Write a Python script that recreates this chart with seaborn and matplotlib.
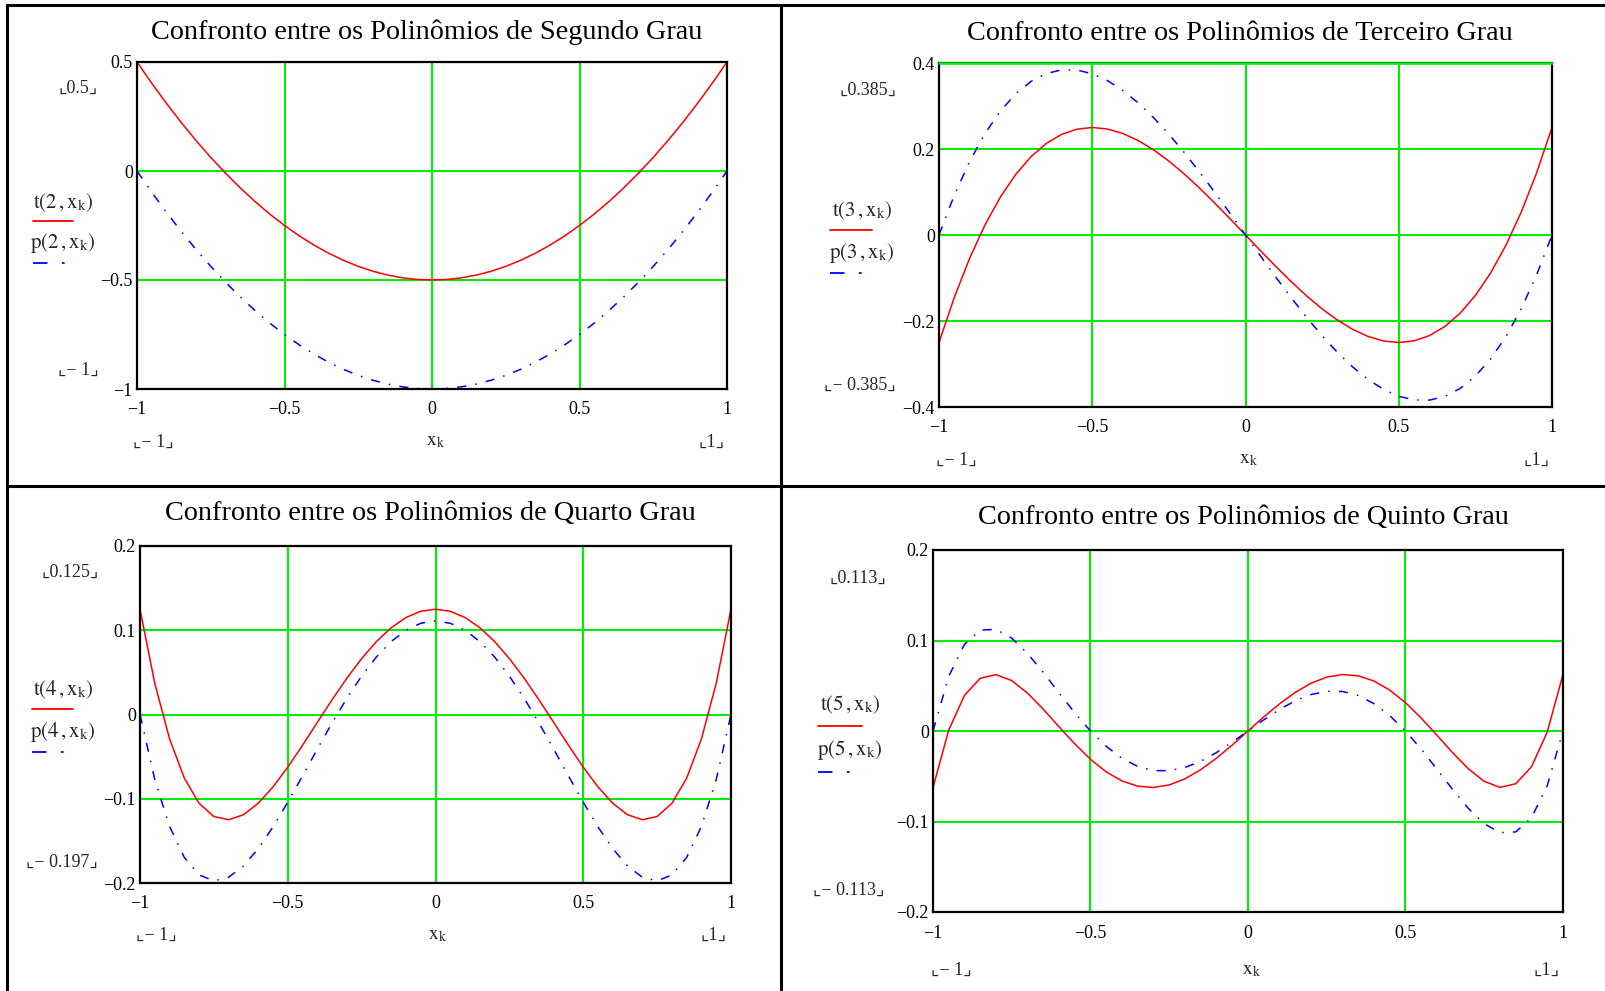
import numpy as np
import seaborn as sns
from matplotlib import pyplot as plt
from matplotlib.lines import Line2D

# pontos x_k
x_k = [-1.0, -0.95, -0.9, -0.85, -0.8, -0.75, -0.7, -0.65, -0.6, -0.55, -0.5,
       -0.45, -0.4, -0.35, -0.3, -0.25, -0.2, -0.15, -0.1, -0.05, 0.0,
       0.05, 0.1, 0.15, 0.2, 0.25, 0.3, 0.35, 0.4, 0.45, 0.5,
       0.55, 0.6, 0.65, 0.7, 0.75, 0.8, 0.85, 0.9, 0.95, 1.0]

# segundo grau
t2 = [0.5, 0.4025, 0.31, 0.2225, 0.14, 0.0625, -0.01, -0.0775, -0.14, -0.1975, -0.25,
      -0.2975, -0.34, -0.3775, -0.41, -0.4375, -0.46, -0.4775, -0.49, -0.4975, -0.5,
      -0.4975, -0.49, -0.4775, -0.46, -0.4375, -0.41, -0.3775, -0.34, -0.2975, -0.25,
      -0.1975, -0.14, -0.0775, -0.01, 0.0625, 0.14, 0.2225, 0.31, 0.4025, 0.5]
p2 = [0.0, -0.0975, -0.19, -0.2775, -0.36, -0.4375, -0.51, -0.5775, -0.64, -0.6975, -0.75,
      -0.7975, -0.84, -0.8775, -0.91, -0.9375, -0.96, -0.9775, -0.99, -0.9975, -1.0,
      -0.9975, -0.99, -0.9775, -0.96, -0.9375, -0.91, -0.8775, -0.84, -0.7975, -0.75,
      -0.6975, -0.64, -0.5775, -0.51, -0.4375, -0.36, -0.2775, -0.19, -0.0975, 0.0]

# terceiro grau
t3 = [-0.25, -0.1449, -0.054, 0.0234, 0.088, 0.1406, 0.182, 0.2129, 0.234, 0.2461, 0.25,
      0.2464, 0.236, 0.2196, 0.198, 0.1719, 0.142, 0.1091, 0.074, 0.0374, 0.0,
      -0.0374, -0.074, -0.1091, -0.142, -0.1719, -0.198, -0.2196, -0.236, -0.2464, -0.25,
      -0.2461, -0.234, -0.2129, -0.182, -0.1406, -0.088, -0.0234, 0.054, 0.1449, 0.25]
p3 = [0.0, 0.0926, 0.171, 0.2359, 0.288, 0.3281, 0.357, 0.3754, 0.384, 0.3836, 0.375,
      0.3589, 0.336, 0.3071, 0.273, 0.2344, 0.192, 0.1466, 0.099, 0.0499, 0.0,
      -0.0499, -0.099, -0.1466, -0.192, -0.2344, -0.273, -0.3071, -0.336, -0.3589, -0.375,
      -0.3836, -0.384, -0.3754, -0.357, -0.3281, -0.288, -0.2359, -0.171, -0.0926, 0.0]

# quarto grau
t4 = [0.125, 0.037, -0.0289, -0.0755, -0.1054, -0.1211, -0.1249, -0.119, -0.1054, -0.086, -0.0625,
      -0.0365, -0.0094, 0.0175, 0.0431, 0.0664, 0.0866, 0.103, 0.1151, 0.1225, 0.125,
      0.1225, 0.1151, 0.103, 0.0866, 0.0664, 0.0431, 0.0175, -0.0094, -0.0365, -0.0625,
      -0.086, -0.1054, -0.119, -0.1249, -0.1211, -0.1054, -0.0755, -0.0289, 0.037, 0.125]
p4 = [0.0, -0.0772, -0.1328, -0.1697, -0.1904, -0.1975, -0.1932, -0.1798, -0.1593, -0.1335, -0.1042,
      -0.0729, -0.0411, -0.01, 0.0192, 0.0456, 0.0683, 0.0866, 0.1001, 0.1083, 0.1111,
      0.1083, 0.1001, 0.0866, 0.0683, 0.0456, 0.0192, -0.01, -0.0411, -0.0729, -0.1042,
      -0.1335, -0.1593, -0.1798, -0.1932, -0.1975, -0.1904, -0.1697, -0.1328, -0.0772, 0.0]

# quinto grau
t5 = [-0.0625, 0.0011, 0.0395, 0.0583, 0.0623, 0.0557, 0.0419, 0.0241, 0.0047, -0.0142, -0.0313,
      -0.0452, -0.0552, -0.061, -0.0624, -0.0596, -0.0528, -0.0427, -0.03, -0.0155, 0.0,
      0.0155, 0.03, 0.0427, 0.0528, 0.0596, 0.0624, 0.061, 0.0552, 0.0452, 0.0313,
      0.0142, -0.0047, -0.0241, -0.0419, -0.0557, -0.0623, -0.0583, -0.0395, -0.0011, 0.0625]
p5 = [0.0, 0.0604, 0.0958, 0.1115, 0.1123, 0.1025, 0.0857, 0.0648, 0.0422, 0.0201, 0.0,
      -0.017, -0.0302, -0.0392, -0.0437, -0.0439, -0.0403, -0.0334, -0.0238, -0.0123, 0.0,
      0.0123, 0.0238, 0.0334, 0.0403, 0.0439, 0.0437, 0.0392, 0.0302, 0.017, 0.0,
      -0.0201, -0.0422, -0.0648, -0.0857, -0.1025, -0.1123, -0.1115, -0.0958, -0.0604, 0.0]

titles = ["Confronto entre os Polinômios de Segundo Grau",
          "Confronto entre os Polinômios de Terceiro Grau",
          "Confronto entre os Polinômios de Quarto Grau",
          "Confronto entre os Polinômios de Quinto Grau"]
graus = [2, 3, 4, 5]
x_ticks = [-1, -0.5, 0, 0.5, 1]
x_ticklabels = ["\u22121", "\u22120.5", "0", "0.5", "1"]
y_ticks = [[-1, -0.5, 0, 0.5], [-0.4, -0.2, 0, 0.2, 0.4], [-0.2, -0.1, 0, 0.1, 0.2], [-0.2, -0.1, 0, 0.1, 0.2]]
y_ticklabels = [["\u22121", "\u22120.5", "0", "0.5"],
                ["\u22120.4", "\u22120.2", "0", "0.2", "0.4"],
                ["\u22120.2", "\u22120.1", "0", "0.1", "0.2"],
                ["\u22120.2", "\u22120.1", "0", "0.1", "0.2"]]
y_marks = [["0.5", "\u2212 1"], ["0.385", "\u2212 0.385"], ["0.125", "\u2212 0.197"], ["0.113", "\u2212 0.113"]]

W, H = 1606, 991
sns.set_theme(style='white')
plt.rcParams['font.family'] = ['Liberation Serif', 'DejaVu Sans']
plt.rcParams['mathtext.fontset'] = 'stix'

fig = plt.figure(figsize=(W / 100, H / 100), dpi=100)
fig.patch.set_facecolor('white')

def fx(px):
    return px / W

def fy(py):
    return 1 - py / H

# caixa dos eixos em pixels: esquerda, topo, direita, base
boxes = [(137, 62, 727, 389), (939, 63, 1552, 407), (140, 546, 731, 883), (933, 550, 1563, 912)]
# posicoes dos textos auxiliares (pixels)
layout = [
    dict(title=(427, 32), ytop=(78, 88), ybot=(78, 370), xl=(153, 442), xr=(712, 442), xk=(435, 442),
         leg_t=(63, 203), leg_line1=(33, 73, 221), leg_p=(63, 243), leg_line2=(33, 73, 263)),
    dict(title=(1240, 33), ytop=(868, 90), ybot=(860, 385), xl=(956, 460), xr=(1537, 460), xk=(1248, 460),
         leg_t=(862, 211), leg_line1=(830, 872, 230), leg_p=(862, 253), leg_line2=(830, 872, 273)),
    dict(title=(430, 513), ytop=(70, 572), ybot=(62, 862), xl=(156, 935), xr=(714, 935), xk=(437, 935),
         leg_t=(63, 690), leg_line1=(32, 73, 709), leg_p=(63, 732), leg_line2=(32, 73, 752)),
    dict(title=(1243, 517), ytop=(858, 578), ybot=(849, 890), xl=(951, 970), xr=(1547, 970), xk=(1251, 970),
         leg_t=(850, 705), leg_line1=(818, 862, 726), leg_p=(850, 750), leg_line2=(818, 862, 772)),
]

series_t = [t2, t3, t4, t5]
series_p = [p2, p3, p4, p5]
dashdot = (0, (6, 6, 1, 6))

for i in range(4):
    l, t, r, b = boxes[i]
    ax = fig.add_axes([fx(l), fy(b), (r - l) / W, (b - t) / H])
    sns.lineplot(x=x_k, y=series_t[i], ax=ax, color='#ff0000', linewidth=1.1)
    sns.lineplot(x=x_k, y=series_p[i], ax=ax, color='#0000ff', linewidth=1.1, linestyle=dashdot)
    ax.set_xlim(-1, 1)
    ax.set_ylim(y_ticks[i][0], y_ticks[i][-1])
    ax.set_xticks(x_ticks)
    ax.set_xticklabels(x_ticklabels)
    ax.set_yticks(y_ticks[i])
    ax.set_yticklabels(y_ticklabels[i])
    ax.tick_params(axis='both', length=0, labelsize=13, colors='black')
    ax.tick_params(axis='x', pad=9)
    ax.tick_params(axis='y', pad=3)
    ax.grid(True, color='#00ee00', linewidth=1.5)
    for sp in ax.spines.values():
        sp.set_color('black')
        sp.set_linewidth(1.6)
    if i == 1:
        ax.axhline(y_ticks[i][-1], color='#00ee00', linewidth=1.8, zorder=5, clip_on=False)
    ax.set_xlabel('')
    ax.set_ylabel('')

    lay = layout[i]
    fig.text(fx(lay['title'][0]), fy(lay['title'][1]), titles[i], fontsize=20.3,
             ha='center', va='center', color='black')
    fig.text(fx(lay['ytop'][0]), fy(lay['ytop'][1]), "\u231e" + y_marks[i][0] + "\u231f",
             fontsize=13, ha='center', va='center')
    fig.text(fx(lay['ybot'][0]), fy(lay['ybot'][1]), "\u231e" + y_marks[i][1] + "\u231f",
             fontsize=13, ha='center', va='center')
    fig.text(fx(lay['xl'][0]), fy(lay['xl'][1]), "\u231e\u2212 1\u231f", fontsize=13, ha='center', va='center')
    fig.text(fx(lay['xr'][0]), fy(lay['xr'][1]), "\u231e1\u231f", fontsize=13, ha='center', va='center')
    fig.text(fx(lay['xk'][0]), fy(lay['xk'][1]), r"$\mathrm{x}_{\mathrm{k}}$", fontsize=14,
             ha='center', va='center')
    n = graus[i]
    fig.text(fx(lay['leg_t'][0]), fy(lay['leg_t'][1]), r"$\mathrm{t}\left(%d\,,\mathrm{x}_{\mathrm{k}}\right)$" % n,
             fontsize=15, ha='center', va='center')
    fig.text(fx(lay['leg_p'][0]), fy(lay['leg_p'][1]), r"$\mathrm{p}\left(%d\,,\mathrm{x}_{\mathrm{k}}\right)$" % n,
             fontsize=15, ha='center', va='center')
    x0, x1, yy = lay['leg_line1']
    fig.add_artist(Line2D([fx(x0), fx(x1)], [fy(yy), fy(yy)], color='#ff0000', linewidth=1.3))
    x0, x1, yy = lay['leg_line2']
    fig.add_artist(Line2D([fx(x0), fx(x1)], [fy(yy), fy(yy)], color='#0000ff', linewidth=1.3,
                          linestyle=(0, (8, 8, 1.5, 30))))

# bordas da tabela
fig.add_artist(Line2D([fx(7), fx(W)], [fy(5), fy(5)], color='black', linewidth=2.2))
fig.add_artist(Line2D([fx(7), fx(7)], [fy(5), fy(H)], color='black', linewidth=2.2))
fig.add_artist(Line2D([fx(781), fx(781)], [fy(5), fy(H)], color='black', linewidth=2.2))
fig.add_artist(Line2D([fx(7), fx(W)], [fy(486), fy(486)], color='black', linewidth=2.2))

fig.savefig('out.png', dpi=100, facecolor='white')
